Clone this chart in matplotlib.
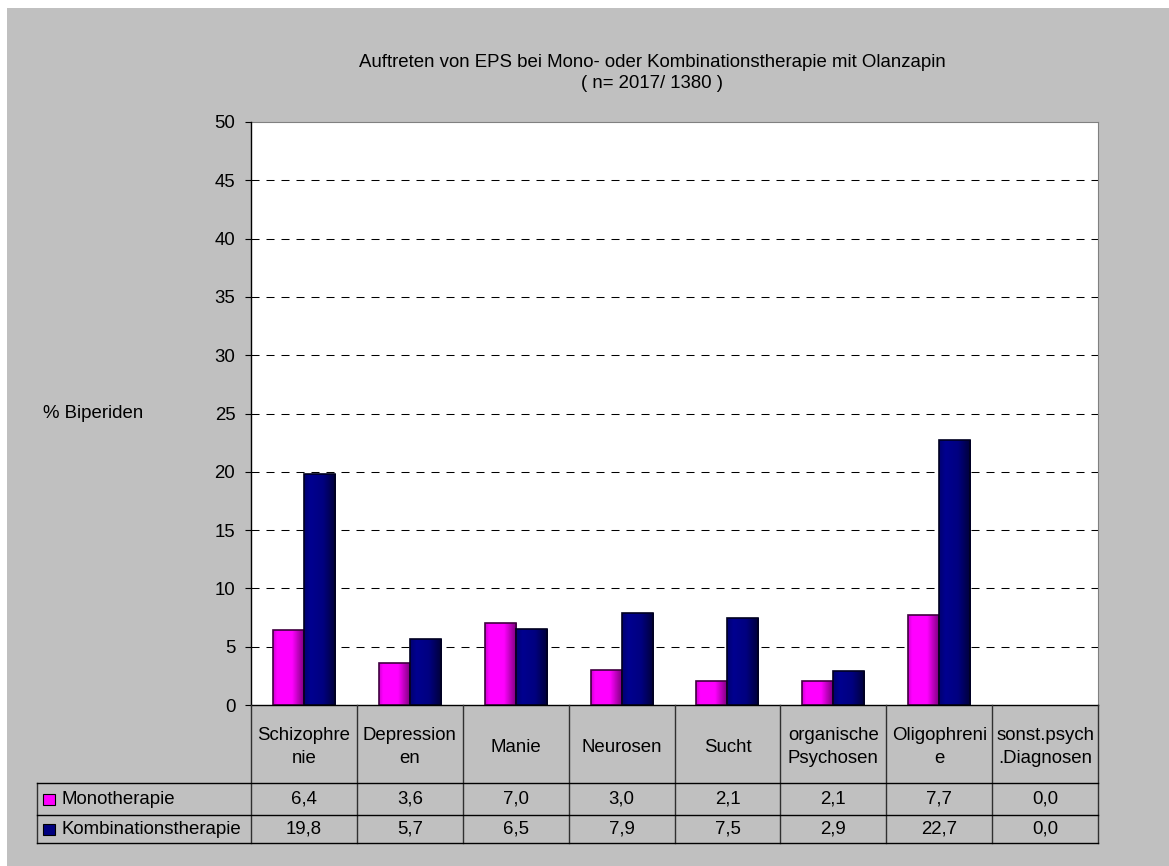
import matplotlib.pyplot as plt
import numpy as np
from matplotlib.colors import LinearSegmentedColormap
from matplotlib.patches import Rectangle

plt.rcParams['font.family'] = ['Liberation Sans', 'DejaVu Sans']
plt.rcParams['font.size'] = 13.4

categories = ['Schizophre\nnie', 'Depression\nen', 'Manie', 'Neurosen', 'Sucht',
              'organische\nPsychosen', 'Oligophreni\ne', 'sonst.psych\n.Diagnosen']
mono = [6.4, 3.6, 7.0, 3.0, 2.1, 2.1, 7.7, 0.0]
kombi = [19.8, 5.7, 6.5, 7.9, 7.5, 2.9, 22.7, 0.0]
series_names = ['Monotherapie', 'Kombinationstherapie']
y_ticks = list(range(0, 51, 5))
title = 'Auftreten von EPS bei Mono- oder Kombinationstherapie mit Olanzapin\n( n= 2017/ 1380 )'
y_label = '% Biperiden'

W, H = 1169, 866
BG = '#C0C0C0'
colors = ['#FF00FF', '#000080']
cmaps = [
    LinearSegmentedColormap.from_list('mono', [(0, '#D000D0'), (0.12, '#FF00FF'),
                                               (0.6, '#FF00FF'), (1, '#780078')]),
    LinearSegmentedColormap.from_list('kombi', [(0, '#000070'), (0.2, '#000090'),
                                                (0.6, '#000080'), (1, '#000038')]),
]
edge_colors = ['#400040', '#000020']


def px_box(l, t, r, b):
    # pixel box (left, top, right, bottom) -> figure fraction rect
    return [l / W, 1 - b / H, (r - l) / W, (b - t) / H]


fig = plt.figure(figsize=(W / 100, H / 100), dpi=100)
fig.patches.append(Rectangle((7 / W, 0), 1 - 7 / W, 1 - 8 / H, transform=fig.transFigure,
                             facecolor=BG, edgecolor='none', zorder=-10))

ax = fig.add_axes(px_box(251, 122, 1098, 705))
ax.set_facecolor('white')

n = len(categories)
x = np.arange(n)
bw = 0.293
grad = np.linspace(0, 1, 64).reshape(1, -1)

for values, offs, color, cmap, ec in zip([mono, kombi], [-bw / 2, bw / 2], colors, cmaps, edge_colors):
    lws = [1.2 if v > 0 else 0 for v in values]
    bars = ax.bar(x + offs, values, bw, color=color, linewidth=0, zorder=3)
    for bar in bars:
        if bar.get_height() <= 0:
            continue
        x0 = bar.get_x()
        im = ax.imshow(grad, extent=(x0, x0 + bar.get_width(), 0, bar.get_height()),
                       aspect='auto', cmap=cmap, interpolation='bilinear', zorder=3.5)
        im.set_clip_path(bar)
    ax.bar(x + offs, values, bw, facecolor='none', edgecolor=ec, linewidth=lws, zorder=4)

for t in y_ticks[1:-1]:
    ax.axhline(t, color='black', lw=0.75, dashes=(7.7, 6.7), zorder=1)

ax.set_xlim(-0.5, n - 0.5)
ax.set_ylim(0, 50)
ax.set_yticks(y_ticks)
ax.set_xticks([])
ax.tick_params(axis='y', direction='out', length=4.3, width=0.8, pad=7, labelsize=13.4)
for side in ['top', 'right']:
    ax.spines[side].set_color('#808080')
for side in ['left', 'bottom']:
    ax.spines[side].set_color('black')
    ax.spines[side].set_linewidth(1)
    ax.spines[side].set_zorder(5)

# data table under the chart
unit = (1098 - 251) / n
tab = fig.add_axes(px_box(37, 705, 1098, 843))
head_left = -0.5 - (251 - 37) / unit
tab.set_xlim(head_left, n - 0.5)
tab.set_ylim(138, 0)
tab.axis('off')
rows = [0, 78, 110, 138]
lkw = dict(color='#303030', lw=1, clip_on=False)

for b in np.arange(n + 1) - 0.5:
    tab.plot([b, b], [rows[0], rows[-1]], **lkw)
tab.plot([head_left, head_left], [rows[1], rows[-1]], **lkw)
for r in rows[1:]:
    tab.plot([head_left, n - 0.5], [r, r], color='black', lw=1, clip_on=False)

for xi, c in zip(x, categories):
    tab.text(xi, rows[1] / 2 + 3, c, ha='center', va='center', linespacing=1.45)

for i, (name, values, color) in enumerate(zip(series_names, [mono, kombi], colors)):
    yc = (rows[i + 1] + rows[i + 2]) / 2
    for xi, v in zip(x, values):
        tab.text(xi, yc, f'{v:.1f}'.replace('.', ','), ha='center', va='center')
    tab.add_patch(Rectangle((head_left + 6 / unit, yc - 5.5), 12 / unit, 11,
                            facecolor=color, edgecolor='black', lw=0.8))
    tab.text(head_left + 24 / unit, yc, name, ha='left', va='center')

fig.text(43 / W, 1 - 413 / H, y_label, ha='left', va='center')
fig.text(652 / W, 1 - 73 / H, title, ha='center', va='center', linespacing=1.3)

fig.savefig('out.png', dpi=100)
